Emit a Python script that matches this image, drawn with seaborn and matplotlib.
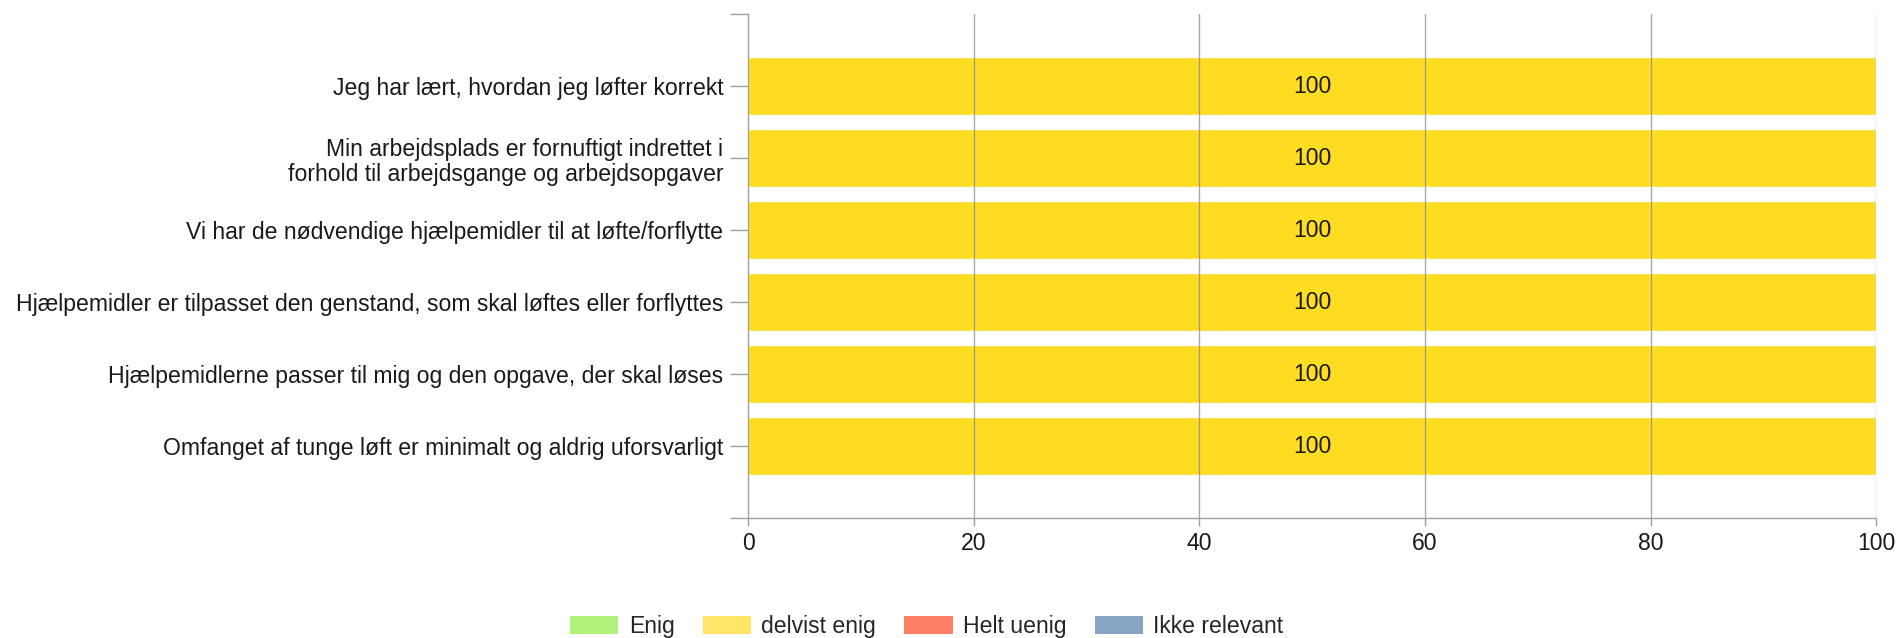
import matplotlib
matplotlib.use("Agg")
import matplotlib.pyplot as plt
import seaborn as sns
import pandas as pd
from matplotlib.patches import Patch

questions = [
    "Jeg har lært, hvordan jeg løfter korrekt",
    "Min arbejdsplads er fornuftigt indrettet i\nforhold til arbejdsgange og arbejdsopgaver",
    "Vi har de nødvendige hjælpemidler til at løfte/forflytte",
    "Hjælpemidler er tilpasset den genstand, som skal løftes eller forflyttes",
    "Hjælpemidlerne passer til mig og den opgave, der skal løses",
    "Omfanget af tunge løft er minimalt og aldrig uforsvarligt",
]
series_names = ["Enig", "delvist enig", "Helt uenig", "Ikke relevant"]
enig = [0, 0, 0, 0, 0, 0]
delvist_enig = [100, 100, 100, 100, 100, 100]
helt_uenig = [0, 0, 0, 0, 0, 0]
ikke_relevant = [0, 0, 0, 0, 0, 0]
x_ticks = [0, 20, 40, 60, 80, 100]

legend_colors = ["#B3F27A", "#FFE566", "#FF8066", "#88A4C4"]
bar_color = "#FEDC22"

sns.set_style("white")
plt.rcParams["font.family"] = ["Liberation Sans", "DejaVu Sans"]

FS = 16.6
TXT = "#1a1a1a"

df = pd.DataFrame({"question": questions, "value": delvist_enig})

fig = plt.figure(figsize=(18.99, 6.38), dpi=100)
ax = fig.add_axes([0.394, 0.188, 0.594, 0.790])

sns.barplot(data=df, y="question", x="value", orient="h", color=bar_color,
            width=0.8, saturation=1, ax=ax, zorder=2)

for i, v in enumerate(delvist_enig):
    ax.text(50, i, f"{v}", ha="center", va="center", fontsize=FS, color=TXT, zorder=4)

ax.set_xlim(0, 100)
ax.set_ylim(6, -1)
ax.set_xticks(x_ticks)
ax.set_xticklabels([str(t) for t in x_ticks], fontsize=FS, color=TXT)
ax.set_yticks(range(len(questions)))
ax.set_yticklabels(questions, fontsize=FS, color=TXT, ha="right", multialignment="right",
                   linespacing=1.15)
ax.set_yticks([-1, 6], minor=True)
ax.tick_params(axis="y", which="both", length=13, width=1, color="#A0A0A0", direction="out", pad=5, left=True)
ax.tick_params(axis="x", length=6, width=1, color="#A0A0A0", direction="out", pad=4, bottom=True)
ax.set_xlabel("")
ax.set_ylabel("")

for t in x_ticks[1:]:
    ax.axvline(t, color="#8C8C8C", lw=1, alpha=0.75, zorder=3)

for s in ["top", "right"]:
    ax.spines[s].set_visible(False)
for s in ["left", "bottom"]:
    ax.spines[s].set_color("#A0A0A0")
    ax.spines[s].set_linewidth(1)

handles = [Patch(facecolor=c, edgecolor="none", label=n) for c, n in zip(legend_colors, series_names)]
fig.legend(handles=handles, loc="center", bbox_to_anchor=(0.488, 0.018), ncol=4,
           frameon=False, fontsize=FS, handlelength=2.1, handleheight=0.85,
           columnspacing=1.22, handletextpad=0.45)

fig.savefig("out.png", dpi=100)
